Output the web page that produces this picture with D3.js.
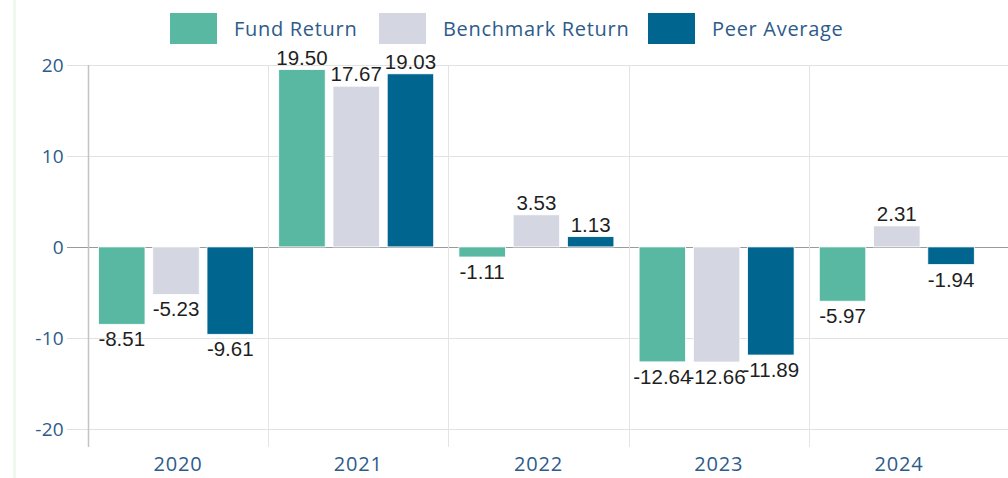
<!DOCTYPE html>
<html>
<head>
<meta charset="utf-8">
<script src="https://cdn.jsdelivr.net/npm/d3@7"></script>
<style>
  html, body { margin: 0; padding: 0; background: #fff; }
  svg { display: block; }
</style>
</head>
<body>
<svg id="chart" width="1008" height="478"></svg>
<script>
// chart values
const years = ['2020', '2021', '2022', '2023', '2024'];
const seriesNames = ['Fund Return', 'Benchmark Return', 'Peer Average'];
const fundReturn = [-8.51, 19.50, -1.11, -12.64, -5.97];
const benchmarkReturn = [-5.23, 17.67, 3.53, -12.66, 2.31];
const peerAverage = [-9.61, 19.03, 1.13, -11.89, -1.94];
const yTicks = [-20, -10, 0, 10, 20];
const colors = ['#58b8a2', '#d4d7e2', '#00668f'];

const allSeries = [fundReturn, benchmarkReturn, peerAverage];

let svg = d3.select('#chart');
let margin = {top: 65, bottom: 31, left: 88};
let height = +svg.attr('height');

// faint page edge on the left
svg.append('rect')
    .attr('x', 13).attr('y', 0)
    .attr('width', 3).attr('height', height)
    .attr('fill', '#eef8ee');

let yScale = d3.scaleLinear()
    .domain([-22, 20])
    .range([height - margin.bottom, margin.top]);

let xScale = d3.scaleBand()
    .domain(years)
    .range([margin.left, margin.left + 5 * 180.2])
    .padding(0);

let xInner = d3.scaleBand()
    .domain(seriesNames)
    .range([10.5, 165.5])
    .paddingInner(0.143)
    .paddingOuter(0);

// horizontal grid
svg.append('g')
    .selectAll('line')
    .data(yTicks)
    .enter().append('line')
    .attr('x1', 67)
    .attr('x2', 1008)
    .attr('y1', d => Math.round(yScale(d)) + 0.5)
    .attr('y2', d => Math.round(yScale(d)) + 0.5)
    .attr('stroke', d => d === 0 ? '#9a9a9a' : '#e2e2e2')
    .attr('stroke-width', d => d === 0 ? 1.2 : 1);

// vertical category lines
svg.append('g')
    .selectAll('line')
    .data(years.slice(1))
    .enter().append('line')
    .attr('x1', d => Math.round(xScale(d)) + 0.5)
    .attr('x2', d => Math.round(xScale(d)) + 0.5)
    .attr('y1', margin.top)
    .attr('y2', height - margin.bottom)
    .attr('stroke', '#e4e4e4');

// y axis line
svg.append('line')
    .attr('x1', margin.left + 0.5).attr('x2', margin.left + 0.5)
    .attr('y1', margin.top).attr('y2', height - margin.bottom)
    .attr('stroke', '#c4c4c4')
    .attr('stroke-width', 1.5);

// y tick labels
svg.append('g')
    .selectAll('text')
    .data(yTicks)
    .enter().append('text')
    .attr('x', 64)
    .attr('y', d => yScale(d))
    .attr('dy', '0.36em')
    .attr('text-anchor', 'end')
    .style('font-family', '"Open Sans", sans-serif')
    .style('font-size', '19px')
    .style('letter-spacing', '0.3px')
    .attr('fill', '#2d5b8a')
    .text(d => d);

// x labels
svg.append('g')
    .selectAll('text')
    .data(years)
    .enter().append('text')
    .attr('x', d => xScale(d) + xScale.bandwidth() / 2)
    .attr('y', 471)
    .attr('text-anchor', 'middle')
    .style('font-family', '"Open Sans", sans-serif')
    .style('font-size', '20px')
    .style('letter-spacing', '0.8px')
    .attr('fill', '#2d5b8a')
    .text(d => d);

// bars
let points = [];
years.forEach((year, i) => {
    allSeries.forEach((s, j) => {
        points.push({year: year, series: seriesNames[j], value: s[i], color: colors[j]});
    });
});

let groups = svg.append('g');
groups.selectAll('rect')
    .data(points)
    .enter().append('rect')
    .attr('x', d => xScale(d.year) + xInner(d.series))
    .attr('width', xInner.bandwidth())
    .attr('y', d => yScale(Math.max(0, d.value)))
    .attr('height', d => Math.abs(yScale(d.value) - yScale(0)))
    .attr('fill', d => d.color)
    .attr('stroke', '#ffffff')
    .attr('stroke-width', 0.8);

// value labels
groups.selectAll('text')
    .data(points)
    .enter().append('text')
    .attr('x', d => xScale(d.year) + xInner(d.series) + xInner.bandwidth() / 2)
    .attr('y', d => d.value >= 0 ? yScale(d.value) - 5 : yScale(d.value) + 22)
    .attr('text-anchor', 'middle')
    .style('font-family', '"Liberation Sans", Arial, sans-serif')
    .style('font-size', '20.5px')
    .attr('fill', '#1f1f1f')
    .text(d => d.value.toFixed(2));

// legend
let legendX = [170, 379, 648];
let legend = svg.append('g')
    .selectAll('g')
    .data(seriesNames)
    .enter().append('g')
    .attr('transform', (d, i) => `translate(${legendX[i]},13)`);

legend.append('rect')
    .attr('width', 47)
    .attr('height', 31)
    .attr('fill', (d, i) => colors[i]);

legend.append('text')
    .attr('x', 64)
    .attr('y', 23)
    .style('font-family', '"Open Sans", sans-serif')
    .style('font-size', '20px')
    .style('letter-spacing', '0.7px')
    .attr('fill', '#2d5b8a')
    .text(d => d);
</script>
</body>
</html>
